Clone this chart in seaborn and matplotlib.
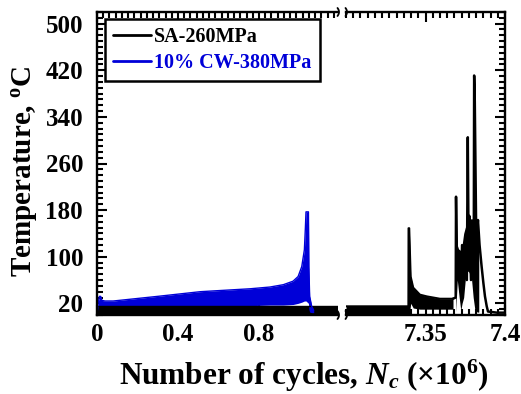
import numpy as np
import pandas as pd
import matplotlib
matplotlib.use("Agg")
import matplotlib.pyplot as plt
from matplotlib.lines import Line2D
from matplotlib.ticker import FixedLocator, FixedFormatter, MultipleLocator, AutoMinorLocator
import seaborn as sns

sns.set_style("ticks")
plt.rcParams.update({
    "font.family": ["Liberation Serif", "DejaVu Serif"],
    "font.weight": "bold",
    "axes.labelweight": "bold",
    "text.color": "black",
    "axes.labelcolor": "black",
    "axes.edgecolor": "black",
    "xtick.color": "black",
    "ytick.color": "black",
    "mathtext.fontset": "custom",
    "mathtext.rm": "Liberation Serif:bold",
    "mathtext.it": "Liberation Serif:bold:italic",
    "mathtext.bf": "Liberation Serif:bold",
})

BLACK = "#000000"
BLUE = "#0000d8"

# ---- SA-260MPa: temperature band during early cycling (x10^6 cycles, degC)
sa_left_n = [0.00, 1.19]
sa_left_lo = [0, 0]
sa_left_hi = [16, 16]

# ---- SA-260MPa: band before/after the first temperature burst
sa_r_n = [7.3000, 7.3392, 7.3393, 7.3398, 7.3407, 7.3423, 7.3465, 7.3509, 7.3591, 7.3673]
sa_r_lo = [0, 0, 0, 0, 20, 12, 10, 10, 10, 10]
sa_r_hi = [15, 15, 149, 149, 66, 47, 35, 32, 28, 28]

# ---- SA-260MPa: dense region of the final bursts
sa_mass_n = [7.3690, 7.3700, 7.3712, 7.3722, 7.3730, 7.3740, 7.3750, 7.3760, 7.3770,
             7.3780, 7.3790, 7.3800, 7.3810, 7.3825, 7.3835]
sa_mass_lo = [5, 60, 30, 8, 20, 30, 60, 75, 75, 70, 60, 30, 10, 5, 5]
sa_mass_hi = [30, 120, 110, 90, 120, 140, 150, 158, 165, 165, 165, 165, 162, 155, 140]

# ---- SA-260MPa: trace of the final bursts up to failure
sa_trace_n = [7.3673, 7.3690, 7.3692, 7.3696, 7.3704, 7.3712, 7.3722, 7.3730, 7.3760,
              7.3766, 7.3770, 7.3776, 7.3786, 7.3796, 7.3804, 7.3806, 7.3810, 7.3818,
              7.3826, 7.3830, 7.3840, 7.3853, 7.3864, 7.3874, 7.3885, 7.3893, 7.3950, 7.4000]
sa_trace_T = [28, 30, 203, 120, 70, 110, 40, 120, 60,
              305, 150, 170, 60, 150, 160, 411, 366, 160,
              150, 163, 120, 83, 55, 32, 15, 6, 4, 4]

# ---- 10% CW-380MPa: temperature band up to failure
cw_n = [0.000, 0.006, 0.012, 0.018, 0.024, 0.040, 0.080, 0.300, 0.510, 0.756, 0.854,
        0.920, 0.968, 0.993, 1.011, 1.024, 1.029, 1.032, 1.044, 1.046, 1.050, 1.060, 1.070]
cw_lo = [2, 15, 16, 16, 16, 16, 16, 16, 16, 16, 17,
         17, 18, 20, 22, 24, 24, 24, 20, 10, 5, 4, 4]
cw_hi = [8, 22, 32, 32, 25, 24, 24, 32, 40, 45, 48,
         52, 58, 66, 83, 112, 150, 177, 177, 83, 32, 15, 8]

y_ticks = [20, 100, 180, 260, 340, 420, 500]
x_left_ticks = [0, 0.4, 0.8]
x_left_labels = ["0", "0.4", "0.8"]
x_right_ticks = [7.35, 7.4]
x_right_labels = ["7.35", "7.4"]
series_labels = ["SA-260MPa", "10% CW-380MPa"]

W, H = 521, 394
fig = plt.figure(figsize=(W / 100, H / 100), dpi=100)
ax1 = fig.add_axes([97 / W, 79 / H, 241 / W, 303 / H])
ax2 = fig.add_axes([346 / W, 79 / H, 159 / W, 303 / H])

# left segment
ax1.fill_between(sa_left_n, sa_left_lo, sa_left_hi, color=BLACK, lw=0)
sns.lineplot(x=sa_left_n, y=sa_left_hi, ax=ax1, color=BLACK, lw=1.0, sort=False, estimator=None)
ax1.fill_between(cw_n, cw_lo, cw_hi, color=BLUE, lw=0)
sns.lineplot(x=cw_n, y=cw_hi, ax=ax1, color=BLUE, lw=1.0, sort=False, estimator=None)

# right segment
ax2.fill_between(sa_r_n, sa_r_lo, sa_r_hi, color=BLACK, lw=0)
sns.lineplot(x=sa_r_n, y=sa_r_hi, ax=ax2, color=BLACK, lw=1.4, sort=False, estimator=None)
ax2.fill_between(sa_mass_n, sa_mass_lo, sa_mass_hi, color=BLACK, lw=0)
sns.lineplot(x=sa_trace_n, y=sa_trace_T, ax=ax2, color=BLACK, lw=1.8, sort=False, estimator=None)

for ax in (ax1, ax2):
    ax.set_ylim(0, 520)
    ax.yaxis.set_major_locator(FixedLocator(y_ticks))
    ax.yaxis.set_minor_locator(MultipleLocator(10))
    ax.tick_params(which="both", direction="in", width=1.5, top=True, bottom=True,
                   labelsize=18, pad=6, colors=BLACK)
    ax.tick_params(which="major", length=7)
    ax.tick_params(which="minor", length=4)
    for s in ax.spines.values():
        s.set_linewidth(1.7)
        s.set_color(BLACK)
    ax.set_xlabel("")
    ax.set_ylabel("")

ax1.set_xlim(0, 1.19)
ax1.xaxis.set_major_locator(FixedLocator(x_left_ticks))
ax1.xaxis.set_major_formatter(FixedFormatter(x_left_labels))
ax1.xaxis.set_minor_locator(AutoMinorLocator(13))
ax1.spines["right"].set_visible(False)
ax1.tick_params(which="both", left=True, right=False)
ax1.tick_params(axis="y", pad=10)

ax2.set_xlim(7.30, 7.40)
ax2.xaxis.set_major_locator(FixedLocator(x_right_ticks))
ax2.xaxis.set_major_formatter(FixedFormatter(x_right_labels))
ax2.xaxis.set_minor_locator(AutoMinorLocator(11))
ax2.spines["left"].set_visible(False)
ax2.tick_params(which="both", left=False, right=True, labelleft=False)

# broken-axis marks on top and bottom spines
for yp in (12, 315):
    for xc in (337.5, 345.5):
        t = np.linspace(-1, 1, 20)
        xs = (xc + 1.5 * (1 - t ** 2)) / W
        ys = (H - (yp + 4 * t)) / H
        fig.add_artist(Line2D(xs, ys, color=BLACK, lw=1.3, transform=fig.transFigure))

handles = [Line2D([], [], color=BLACK, lw=2), Line2D([], [], color=BLUE, lw=2)]
leg = ax1.legend(handles, series_labels, loc="upper left", bbox_to_anchor=(0.033, 0.977),
                 frameon=True, fancybox=False, edgecolor=BLACK, fontsize=14.5,
                 handlelength=1.9, handletextpad=0.15, borderpad=0.4,
                 labelspacing=0.3, borderaxespad=0, framealpha=1)
leg.get_frame().set_linewidth(1.8)
for txt, c in zip(leg.get_texts(), [BLACK, BLUE]):
    txt.set_color(c)
    txt.set_fontweight("bold")

fig.text(25 / W, (H - 171) / H, "Temperature, $^{\\rm o}$C", rotation=90,
         ha="center", va="center", fontsize=21, fontweight="bold")
fig.text(304 / W, (H - 376) / H,
         "Number of cycles, $N_c$ ($\\times$10$^{\\rm 6}$)",
         ha="center", va="center", fontsize=22.5, fontweight="bold")

fig.savefig("out.png", dpi=100)
